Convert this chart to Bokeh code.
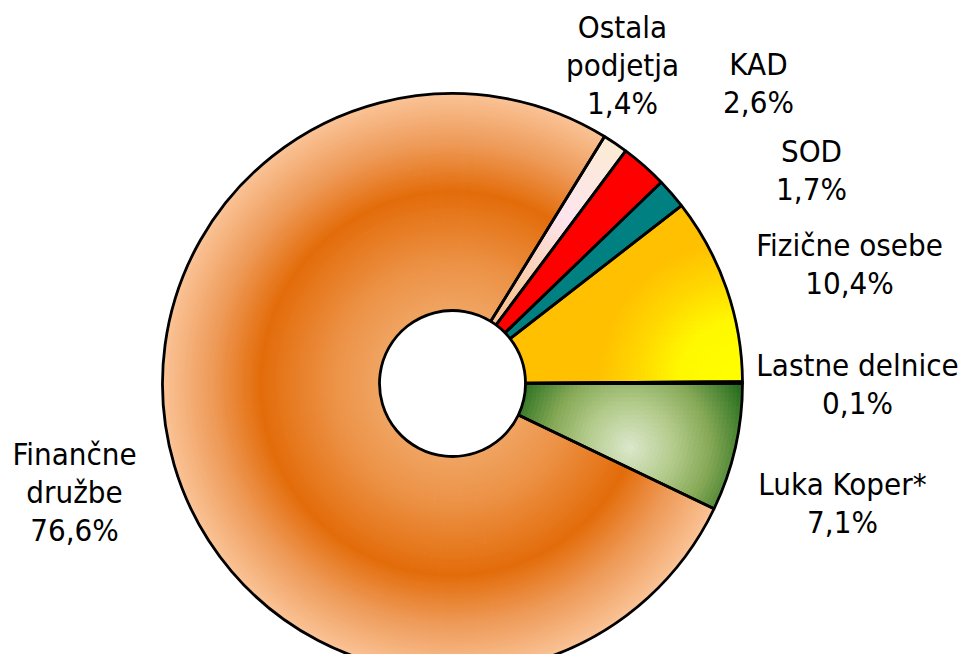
import numpy as np
from bokeh.plotting import figure
from bokeh.models import Range1d, ColumnDataSource
from bokeh.core.properties import value
from bokeh.embed import file_html
from bokeh.resources import INLINE

# ---------------- data ----------------
categories = ["Lastne delnice", "Fizične osebe", "SOD", "KAD",
              "Ostala podjetja", "Finančne družbe", "Luka Koper*"]
name_lines = [["Lastne delnice"], ["Fizične osebe"], ["SOD"], ["KAD"],
              ["Ostala", "podjetja"], ["Finančne", "družbe"], ["Luka Koper*"]]
shares = [0.1, 10.4, 1.7, 2.6, 1.4, 76.6, 7.1]

# ---------------- layout / style ----------------
CX, CY = 452.0, -383.0          # centre (data units = screen px, y negated)
R_OUT, R_IN = 290.0, 73.0
label_anchor = [(857, 378), (849, 258), (811, 164), (758, 77),
                (622, 40), (74, 467), (842, 497)]
TEXT_SHIFT = -14
LINE_STEP = 38
FONT = "DejaVu Sans Condensed"
FONT_SIZE = "31px"

solid_colors = {"Lastne delnice": "#7F7F7F", "SOD": "#008080", "KAD": "#FF0000"}


def hex2rgb(h):
    h = h.lstrip("#")
    return np.array([int(h[i:i + 2], 16) for i in (0, 2, 4)], dtype=float)


def grad(stops, t):
    pos = [s[0] for s in stops]
    cols = [hex2rgb(s[1]) for s in stops]
    t = float(np.clip(t, pos[0], pos[-1]))
    for i in range(len(pos) - 1):
        if pos[i] <= t <= pos[i + 1]:
            f = (t - pos[i]) / (pos[i + 1] - pos[i]) if pos[i + 1] > pos[i] else 0
            c = cols[i] * (1 - f) + cols[i + 1] * f
            return "#%02x%02x%02x" % tuple(int(round(v)) for v in c)
    return "#%02x%02x%02x" % tuple(int(v) for v in cols[-1])


fin_stops = [(73, "#F0A462"), (120, "#EC9246"), (192, "#E36C0A"),
             (240, "#EE9A58"), (290, "#FAC396")]
ost_stops = [(73, "#F8BE86"), (140, "#FAD2B8"), (200, "#FDE4EE"), (290, "#FBEBD3")]
fiz_stops = [(0, "#FFFF00"), (60, "#FFF800"), (100, "#FFD800"), (140, "#FFC000"), (400, "#FFC000")]
fiz_centre = (738.0, -380.0)
luka_stops = [(0, "#DCE8CC"), (45, "#B2CA8A"), (80, "#86A956"), (128, "#1F6A1A"), (400, "#1F6A1A")]
luka_centre = (630.0, -447.0)

# ---------------- angles ----------------
total = sum(shares)
ends = np.cumsum(shares) / total * 2 * np.pi
starts = np.concatenate([[0.0], ends[:-1]])

p = figure(width=963, height=654, x_range=Range1d(0, 963), y_range=Range1d(-654, 0),
           toolbar_location=None, output_backend="svg", min_border=0,
           x_axis_location=None, y_axis_location=None)
p.grid.visible = False
p.outline_line_color = None
p.background_fill_color = "white"
p.border_fill_color = "white"


def rings(a0, a1, stops, step=2.0):
    ri = np.arange(R_IN, R_OUT, step)
    ro = np.minimum(ri + step + 0.8, R_OUT)
    cols = [grad(stops, r + step / 2) for r in ri]
    src = ColumnDataSource(dict(x=[CX] * len(ri), y=[CY] * len(ri), ri=ri, ro=ro,
                                a0=[a0] * len(ri), a1=[a1] * len(ri), c=cols))
    p.annular_wedge(x="x", y="y", inner_radius="ri", outer_radius="ro",
                    start_angle="a0", end_angle="a1", fill_color="c",
                    line_color=None, source=src)


def cells(a0, a1, stops, centre, dr=4.0, darc=4.5):
    xs, ys, ri_l, ro_l, s_l, e_l, c_l = [], [], [], [], [], [], []
    for r0 in np.arange(R_IN, R_OUT, dr):
        r1 = min(r0 + dr, R_OUT)
        rm = (r0 + r1) / 2
        n = max(2, int(np.ceil((a1 - a0) * rm / darc)))
        edges = np.linspace(a0, a1, n + 1)
        for k in range(n):
            am = (edges[k] + edges[k + 1]) / 2
            px = CX + rm * np.cos(am)
            py = CY + rm * np.sin(am)
            d = np.hypot(px - centre[0], py - centre[1])
            xs.append(CX); ys.append(CY)
            ri_l.append(r0); ro_l.append(r1)
            s_l.append(edges[k]); e_l.append(edges[k + 1])
            c_l.append(grad(stops, d))
    src = ColumnDataSource(dict(x=xs, y=ys, ri=ri_l, ro=ro_l, a0=s_l, a1=e_l, c=c_l))
    p.annular_wedge(x="x", y="y", inner_radius="ri", outer_radius="ro",
                    start_angle="a0", end_angle="a1", fill_color="c",
                    line_color="c", line_width=1, source=src)


for cat, a0, a1 in zip(categories, starts, ends):
    if cat == "Finančne družbe":
        rings(a0, a1, fin_stops)
    elif cat == "Ostala podjetja":
        rings(a0, a1, ost_stops)
    elif cat == "Fizične osebe":
        cells(a0, a1, fiz_stops, fiz_centre)
    elif cat == "Luka Koper*":
        cells(a0, a1, luka_stops, luka_centre)
    else:
        p.annular_wedge(x=CX, y=CY, inner_radius=R_IN, outer_radius=R_OUT,
                        start_angle=a0, end_angle=a1,
                        fill_color=solid_colors[cat], line_color=None)

# outlines
osrc = ColumnDataSource(dict(x=[CX] * len(shares), y=[CY] * len(shares),
                             a0=starts, a1=ends))
p.annular_wedge(x="x", y="y", inner_radius=R_IN, outer_radius=R_OUT,
                start_angle="a0", end_angle="a1", fill_color=None,
                line_color="black", line_width=2.8, source=osrc)

# labels
tx, ty, tt = [], [], []
for lines, share, (ax, ay) in zip(name_lines, shares, label_anchor):
    all_lines = lines + [f"{share:.1f}".replace(".", ",") + "%"]
    for i, s in enumerate(all_lines):
        tx.append(ax)
        ty.append(-(ay + TEXT_SHIFT + i * LINE_STEP))
        tt.append(s)
p.text(x=tx, y=ty, text=tt, text_align="center", text_baseline="alphabetic",
       text_font=value(FONT), text_font_size=FONT_SIZE, text_color="#000000")

open("out.html", "w").write(file_html(p, INLINE))
